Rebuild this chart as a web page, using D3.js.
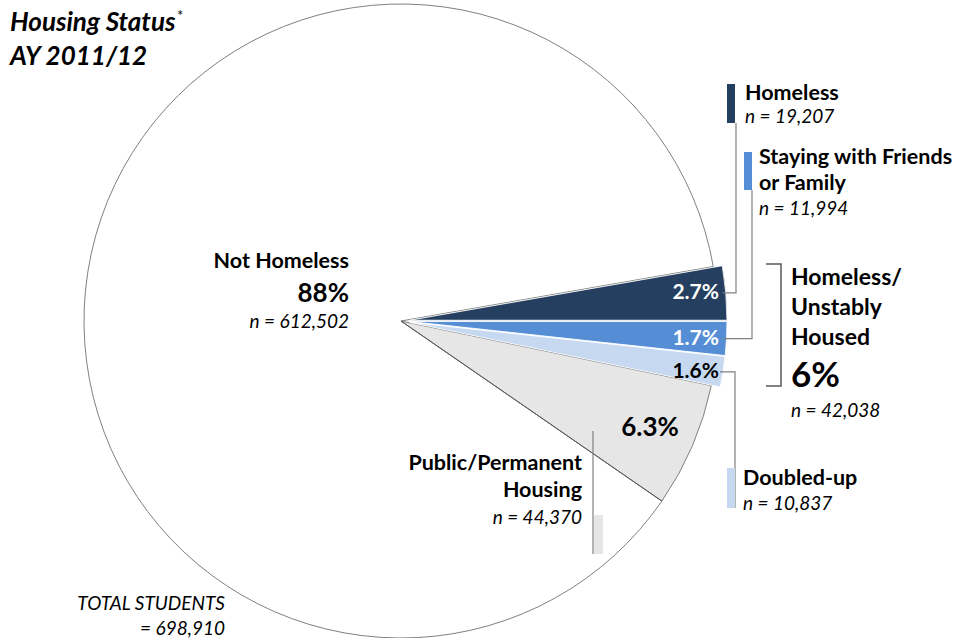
<!DOCTYPE html>
<html>
<head>
<meta charset="utf-8">
<script src="https://cdn.jsdelivr.net/npm/d3@7"></script>
<style>
  body { margin: 0; background: #fff; }
  svg { font-family: Lato, "Open Sans", sans-serif; }
  .b { font-weight: bold; }
  .i { font-style: italic; }
</style>
</head>
<body>
<div id="chart"></div>
<script>
// housing status, AY 2011/12
var categories = ["Homeless", "Staying with Friends or Family", "Doubled-up", "Public/Permanent Housing", "Not Homeless"];
var counts = [19207, 11994, 10837, 44370, 612502];
var pctLabels = ["2.7%", "1.7%", "1.6%", "6.3%", "88%"];
var countLabels = ["n = 19,207", "n = 11,994", "n = 10,837", "n = 44,370", "n = 612,502"];
var colors = ["#243f60", "#558ed5", "#c6d9f1", "#e6e6e6", "#ffffff"];
var groupCount = "n = 42,038";
var groupPct = "6%";
var totalLabel = "= 698,910";

var width = 959, height = 638;
var cx = 401, cy = 321, r = 317, explode = 9;

var svg = d3.select("#chart").append("svg")
  .attr("width", width)
  .attr("height", height);

var total = d3.sum(counts);
var data = categories.map(function(c, i) { return {name: c, value: counts[i], idx: i}; });

// first slice ends at 3 o'clock
var start = Math.PI / 2 - 2 * Math.PI * counts[0] / total;
var pie = d3.pie().sort(null).value(function(d) { return d.value; })
  .startAngle(start).endAngle(start + 2 * Math.PI);
var arcs = pie(data);
var arc = d3.arc().innerRadius(0).outerRadius(r);

function mid(d) { return (d.startAngle + d.endAngle) / 2; }
function off(d) { return d.index < 3 ? explode : 0; }
function pt(d, rad) {
  var a = mid(d), o = off(d);
  return [cx + (o + rad) * Math.sin(a), cy - (o + rad) * Math.cos(a)];
}

var g = svg.append("g").attr("transform", "translate(" + cx + "," + cy + ")");
g.selectAll("path")
  .data(arcs.slice().reverse())
  .enter().append("path")
    .attr("d", arc)
    .attr("transform", function(d) {
      var a = mid(d), o = off(d);
      return "translate(" + (o * Math.sin(a)) + "," + (-o * Math.cos(a)) + ")";
    })
    .attr("fill", function(d) { return colors[d.index]; })
    .attr("stroke", function(d) { return d.index < 3 ? "#ffffff" : "#808080"; })
    .attr("stroke-width", function(d) { return d.index < 3 ? 0.8 : 1; });

// darker radial edge between public housing and not homeless
var edgeA = arcs[3].endAngle;
g.append("line")
  .attr("x1", 0).attr("y1", 0)
  .attr("x2", r * Math.sin(edgeA)).attr("y2", -r * Math.cos(edgeA))
  .attr("stroke", "#595959").attr("stroke-width", 1);

// percentage labels inside the small slices
[0, 1, 2].forEach(function(i) {
  var p = pt(arcs[i], r);
  svg.append("text")
    .attr("class", "b")
    .attr("x", 719).attr("y", p[1] + 6)
    .attr("text-anchor", "end")
    .attr("font-size", 21)
    .attr("fill", i < 2 ? "#ffffff" : "#000000")
    .text(pctLabels[i]);
});
var p3 = pt(arcs[3], 271);
svg.append("text").attr("class", "b")
  .attr("x", p3[0]).attr("y", p3[1] + 8)
  .attr("text-anchor", "middle").attr("font-size", 26)
  .text(pctLabels[3]);

// leader lines
var lineColor = "#808080";
function leader(i, lx, bottomY) {
  var p = pt(arcs[i], r);
  svg.append("path")
    .attr("d", "M" + (p[0] - 3) + "," + p[1] + "H" + lx + "V" + bottomY)
    .attr("fill", "none").attr("stroke", lineColor).attr("stroke-width", 1.2);
}
leader(0, 736, 123);
leader(1, 752, 190);
leader(2, 735, 508);

// small colour swatches next to labels
function swatch(x, y, w, h, c) {
  svg.append("rect").attr("x", x).attr("y", y).attr("width", w).attr("height", h).attr("fill", c);
}
swatch(727, 84, 8, 39, colors[0]);
swatch(744, 152, 8, 38, colors[1]);
swatch(727, 468, 8, 40, colors[2]);
swatch(594, 515, 9, 39, colors[3]);

function label(x, y, txt, cls, size, anchor) {
  return svg.append("text")
    .attr("class", cls)
    .attr("x", x).attr("y", y)
    .attr("font-size", size)
    .attr("text-anchor", anchor || "start")
    .text(txt);
}

// right side labels
label(745, 100, "Homeless", "b", 21.5);
label(745, 123, countLabels[0], "i", 19);
label(759, 164, "Staying with Friends", "b", 21.5);
label(759, 190, "or Family", "b", 21.5);
label(759, 215, countLabels[1], "i", 19);
label(743, 485, "Doubled-up", "b", 21.5);
label(743, 510, countLabels[2], "i", 19);

// bracket for homeless/unstably housed
svg.append("path")
  .attr("d", "M766,264H781V386H766")
  .attr("fill", "none").attr("stroke", "#595959").attr("stroke-width", 1.5);
label(791, 285, "Homeless/", "b", 23);
label(791, 315, "Unstably", "b", 23);
label(791, 345, "Housed", "b", 23);
label(791, 387, groupPct, "b", 35);
label(791, 417, groupCount, "i", 19);

// public housing
svg.append("line")
  .attr("x1", 593).attr("y1", 431).attr("x2", 593).attr("y2", 554)
  .attr("stroke", lineColor).attr("stroke-width", 1.2);
label(582, 470, "Public/Permanent", "b", 21.5, "end");
label(582, 497, "Housing", "b", 21.5, "end");
label(582, 524, countLabels[3], "i", 19, "end");

// not homeless
label(349, 268, "Not Homeless", "b", 21.5, "end");
label(349, 302, pctLabels[4], "b", 26, "end");
label(349, 328, countLabels[4], "i", 19, "end");

// total
label(225, 610, "TOTAL STUDENTS", "i", 19, "end");
label(225, 635, totalLabel, "i", 19, "end");

// title
label(10, 31, "Housing Status", "b i", 26);
svg.append("text").attr("x", 177).attr("y", 21).attr("font-size", 15).text("*");
label(10, 65, "AY 2011/12", "b i", 26);
</script>
</body>
</html>
